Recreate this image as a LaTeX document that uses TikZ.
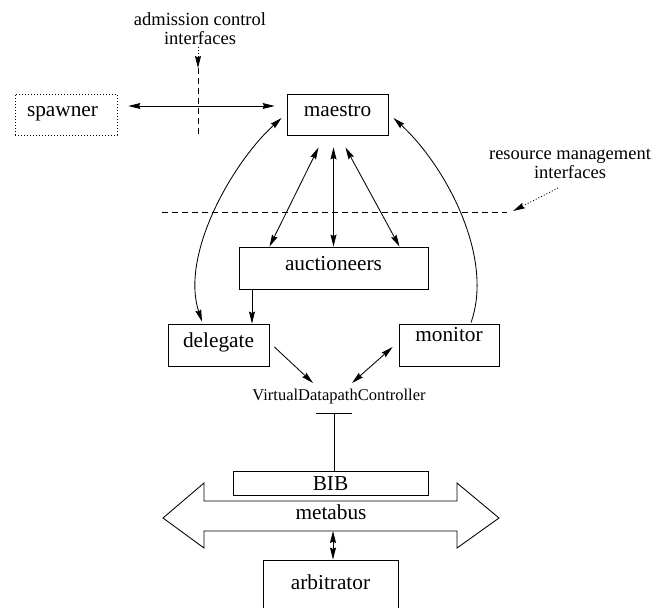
\documentclass[tikz,border=0pt]{standalone}
\usepackage{fontspec}
\setmainfont{Liberation Serif}
\usetikzlibrary{arrows.meta,calc}
\newcommand\boxfs{\fontsize{21.3}{25}\selectfont}
\newcommand\notefs{\fontsize{18.5}{17}\selectfont}
\newcommand\vdcfs{\fontsize{16.5}{19}\selectfont}
\begin{document}
\begin{tikzpicture}[x=1pt,y=-1pt,
  line width=0.85pt,
  >={Stealth[length=12pt,width=6pt,inset=1.5pt]},
  box/.style={draw, inner sep=0pt, font=\boxfs, text height=8pt, text depth=3.5pt},
  note/.style={font=\notefs, align=center, inner sep=0pt, anchor=north},
  fine dots/.style={dash pattern=on 1pt off 2pt},
  long dashes/.style={dash pattern=on 6pt off 4pt}]
\useasboundingbox (0,0) rectangle (668,607);

% components
\node[box, fine dots, minimum width=102pt, minimum height=41pt] (spawner) at (66,114.5) {\hspace*{-7pt}spawner};
\node[box, minimum width=101pt, minimum height=41pt] (maestro) at (337.5,114.5) {maestro};
\node[box, minimum width=189pt, minimum height=42pt] (auctioneers) at (333.5,268) {auctioneers};
\node[box, minimum width=101pt, minimum height=42pt] (delegate) at (218.5,345) {delegate};
\node[box, minimum width=100pt, minimum height=42pt, text height=3.5pt, text depth=10pt] (monitor) at (449,345) {monitor};
\node[font=\vdcfs, inner sep=0pt, anchor=base] (vdc) at (339,400.7) {VirtualDatapathController};
\node[box, minimum width=195pt, minimum height=24pt, text height=14pt, text depth=0pt] (bib) at (330.5,483) {BIB};
\node[box, minimum width=135pt, minimum height=54pt] (arbitrator) at (330.5,587) {arbitrator};

% interface annotations
\node[note] (admission) at (200,12) {\strut admission control\\interfaces};
\node[note] (resource) at (570,147) {\strut resource management\\interfaces};

\coordinate (admtop) at (198,47);
\coordinate (admtip) at (198,68);
\coordinate (admend) at (198,135);
\draw[fine dots, ->] (admtop) -- (admtip);
\draw[long dashes] (admtip) -- (admend);

\coordinate (rmleft) at (162,212);
\coordinate (rmright) at (507,212);
\coordinate (rmfrom) at (558,188);
\coordinate (rmtip) at (513,211);
\draw[long dashes] (rmleft) -- (rmright);
\draw[fine dots, ->] (rmfrom) -- (rmtip);

% admission path
\draw[<->] ([xshift=11pt,yshift=8.5pt]spawner.east) -- ([xshift=-12pt,yshift=8.5pt]maestro.west);

% maestro <-> auctioneers
\draw[<->] ([yshift=-12pt]auctioneers.north |- maestro.south) -- (auctioneers.north);
\draw[<->] ([xshift=-15pt,yshift=-12pt]auctioneers.north |- maestro.south) -- ([xshift=-64pt]auctioneers.north);
\draw[<->] ([xshift=12pt,yshift=-12pt]auctioneers.north |- maestro.south) -- ([xshift=66pt]auctioneers.north);

% maestro <-> delegate, monitor -> maestro
\draw[<->] ([xshift=-5pt,yshift=-3.5pt]maestro.west)
  .. controls (232,163) and (180,255) .. ([xshift=-16.5pt,yshift=2pt]delegate.north);
\draw[->] ([xshift=22pt,yshift=1pt]monitor.north)
  .. controls (495,255) and (443,163) .. ([xshift=5pt,yshift=-3.5pt]maestro.east);

% auctioneers -> delegate
\draw[->] ([xshift=-81.5pt]auctioneers.south) -- ([xshift=-81.5pt]auctioneers.south |- delegate.north);

% datapath controller
\draw[->] ([xshift=5pt,yshift=-2pt]delegate.east) -- ([xshift=-26pt,yshift=17.7pt]vdc.base);
\draw[<->] ([xshift=-6pt,yshift=-2pt]monitor.west) -- ([xshift=13pt,yshift=17.7pt]vdc.base);

\coordinate (tee) at (334,413);
\draw ([xshift=-18pt]tee) -- ([xshift=18pt]tee);
\draw (tee) -- (tee |- bib.north);

% metabus
\coordinate (busL) at (163,518);
\coordinate (busR) at (499,518);
\draw (busL) -- (204,483) -- (204,501) -- (457,501) -- (457,483) -- (busR)
  -- (457,548) -- (457,531) -- (204,531) -- (204,548) -- cycle;
\node[font=\boxfs, inner sep=0pt, anchor=base] (metabus) at (331,519) {metabus};

\coordinate (busbottom) at (333,531);
\draw[<->] (busbottom) -- (busbottom |- arbitrator.north);
\end{tikzpicture}
\end{document}
